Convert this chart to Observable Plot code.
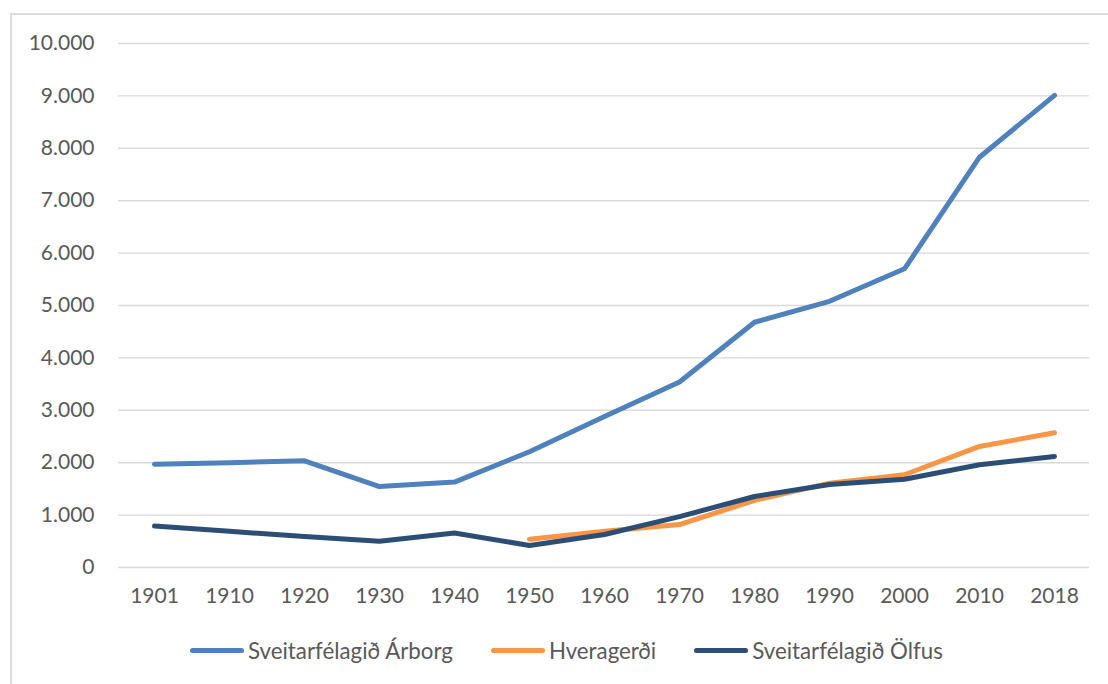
<!DOCTYPE html>
<html>
<head>
<meta charset="utf-8">
<script src="https://cdn.jsdelivr.net/npm/d3@7"></script>
<script src="https://cdn.jsdelivr.net/npm/@observablehq/plot@0.6"></script>
<style>
  html, body { margin: 0; padding: 0; background: #fff; width: 1108px; height: 684px; overflow: hidden; }
  #frame { position: absolute; left: 10px; top: 13px; width: 1120px; height: 700px; border: 2px solid #dcdcdc; box-sizing: border-box; }
  #chart { position: absolute; left: 0; top: 0; }
  #legend { position: absolute; left: 190px; top: 637px; display: flex; align-items: center; font-family: Lato, "Open Sans", sans-serif; font-size: 22.3px; color: #595959; }
  .item { display: flex; align-items: center; margin-right: 38px; }
  .sw { width: 54px; height: 5px; border-radius: 3px; margin-right: 4px; }
</style>
</head>
<body>
<div id="frame"></div>
<div id="chart"></div>
<div id="legend"></div>
<script>
const years = ["1901","1910","1920","1930","1940","1950","1960","1970","1980","1990","2000","2010","2018"];
const seriesNames = ["Sveitarfélagið Árborg", "Hveragerði", "Sveitarfélagið Ölfus"];
const seriesColors = ["#4f81bd", "#f79646", "#2c4d75"];
const arborg = [1970, 2000, 2035, 1545, 1630, 2210, 2880, 3540, 4680, 5080, 5700, 7830, 9010];
const hveragerdi = [null, null, null, null, null, 540, 690, 820, 1280, 1610, 1770, 2310, 2570];
const olfus = [790, 690, 590, 500, 660, 420, 630, 970, 1355, 1585, 1685, 1960, 2120];
const yTicks = [0, 1000, 2000, 3000, 4000, 5000, 6000, 7000, 8000, 9000, 10000];

const allSeries = [arborg, hveragerdi, olfus];
const data = [];
allSeries.forEach((vals, si) => {
  vals.forEach((v, i) => {
    if (v != null) data.push({year: years[i], value: v, series: seriesNames[si]});
  });
});

const loc = d3.formatLocale({decimal: ",", thousands: ".", grouping: [3], currency: ["", ""]});
const fmt = loc.format(",");

const chart = Plot.plot({
  width: 1108,
  height: 620,
  marginLeft: 118,
  marginRight: 19,
  marginTop: 43,
  marginBottom: 53,
  style: {fontFamily: "Lato, 'Open Sans', sans-serif", fontSize: "21px", color: "#595959", background: "transparent"},
  x: {type: "point", domain: years, padding: 0.45},
  y: {domain: [0, 10000]},
  color: {domain: seriesNames, range: seriesColors},
  marks: [
    Plot.ruleY(yTicks, {stroke: "#d9d9d9", strokeWidth: 1.4}),
    Plot.axisY({ticks: yTicks, tickSize: 0, tickPadding: 24, tickFormat: fmt, label: null, fill: "#595959"}),
    Plot.axisX({tickSize: 0, tickPadding: 21, label: null, fill: "#595959"}),
    Plot.line(data, {x: "year", y: "value", z: "series", stroke: "series", strokeWidth: 5, strokeLinecap: "round", strokeLinejoin: "round"})
  ]
});
document.getElementById("chart").appendChild(chart);

const legend = document.getElementById("legend");
seriesNames.forEach((name, i) => {
  const item = document.createElement("div");
  item.className = "item";
  const sw = document.createElement("div");
  sw.className = "sw";
  sw.style.background = seriesColors[i];
  const label = document.createElement("span");
  label.textContent = name;
  item.appendChild(sw);
  item.appendChild(label);
  legend.appendChild(item);
});
</script>
</body>
</html>
